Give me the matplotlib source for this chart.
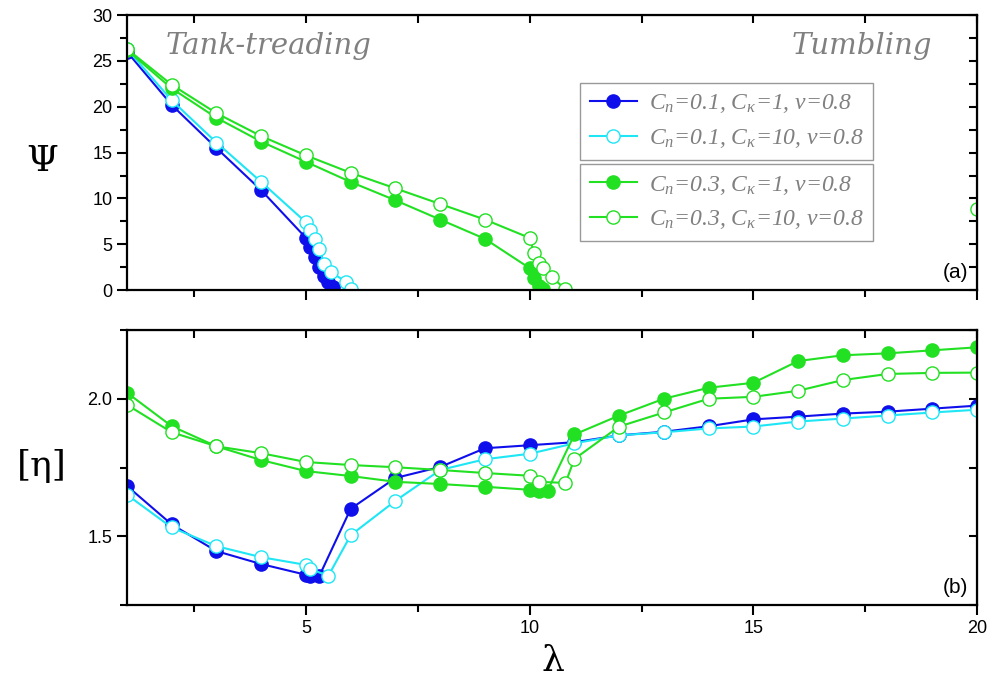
import matplotlib
matplotlib.use("Agg")
import matplotlib.pyplot as plt
import numpy as np
from matplotlib.ticker import MultipleLocator

# (a) Psi vs lambda
x_a_blue = [1, 2, 3, 4, 5, 5.1, 5.2, 5.3, 5.4, 5.5, 5.6]
psi_blue = [26.0, 20.2, 15.5, 10.9, 5.7, 4.7, 3.6, 2.5, 1.6, 0.9, 0.3]
x_a_cyan = [1, 2, 3, 4, 5, 5.1, 5.2, 5.3, 5.4, 5.55, 5.9, 6.0]
psi_cyan = [26.3, 20.7, 16.1, 11.8, 7.4, 6.6, 5.6, 4.5, 2.9, 2.0, 0.9, 0.1]
x_a_green = [1, 2, 3, 4, 5, 6, 7, 8, 9, 10, 10.1, 10.2, 10.3]
psi_green = [26.2, 22.0, 18.8, 16.2, 14.0, 11.8, 9.8, 7.7, 5.6, 2.4, 1.3, 0.5, 0.1]
x_a_lime = [1, 2, 3, 4, 5, 6, 7, 8, 9, 10, 10.1, 10.2, 10.3, 10.5, 10.8, np.nan, 20]
psi_lime = [26.3, 22.4, 19.3, 16.8, 14.7, 12.8, 11.1, 9.4, 7.7, 5.7, 4.0, 3.0, 2.4, 1.4, 0.1, np.nan, 8.9]

# (b) [eta] vs lambda
x_b_blue = [1, 2, 3, 4, 5, 5.1, 5.3, 6, 7, 8, 9, 10, 11, 12, 13, 14, 15, 16, 17, 18, 19, 20]
eta_blue = [1.683, 1.543, 1.446, 1.399, 1.360, 1.356, 1.356, 1.600, 1.712, 1.752, 1.820, 1.831,
            1.842, 1.867, 1.880, 1.900, 1.925, 1.935, 1.946, 1.953, 1.964, 1.975]
x_b_cyan = [1, 2, 3, 4, 5, 5.1, 5.5, 6, 7, 8, 9, 10, 11, 12, 13, 14, 15, 16, 17, 18, 19, 20]
eta_cyan = [1.651, 1.532, 1.464, 1.424, 1.396, 1.381, 1.356, 1.504, 1.629, 1.741, 1.780, 1.800,
            1.838, 1.867, 1.878, 1.892, 1.899, 1.917, 1.928, 1.939, 1.950, 1.960]
x_b_green = [1, 2, 3, 4, 5, 6, 7, 8, 9, 10, 10.2, 10.4, 11, 12, 13, 14, 15, 16, 17, 18, 19, 20]
eta_green = [2.022, 1.900, 1.827, 1.777, 1.737, 1.719, 1.698, 1.690, 1.680, 1.669, 1.666, 1.666,
             1.870, 1.939, 2.000, 2.040, 2.058, 2.137, 2.158, 2.165, 2.176, 2.187]
x_b_lime = [1, 2, 3, 4, 5, 6, 7, 8, 9, 10, 10.2, 10.8, 11, 12, 13, 14, 15, 16, 17, 18, 19, 20]
eta_lime = [1.978, 1.878, 1.827, 1.802, 1.770, 1.759, 1.751, 1.741, 1.730, 1.720, 1.698, 1.694,
            1.781, 1.899, 1.950, 2.000, 2.007, 2.029, 2.068, 2.090, 2.094, 2.095]

labels = [r"$C_n$=0.1, $C_\kappa$=1, $\nu$=0.8",
          r"$C_n$=0.1, $C_\kappa$=10, $\nu$=0.8",
          r"$C_n$=0.3, $C_\kappa$=1, $\nu$=0.8",
          r"$C_n$=0.3, $C_\kappa$=10, $\nu$=0.8"]

BLUE = "#0f0fec"
CYAN = "#1ee6f5"
GREEN = "#22e022"
GRAY = "#808080"

plt.rcParams["font.family"] = ["Liberation Sans", "DejaVu Sans"]
plt.rcParams["mathtext.fontset"] = "custom"
plt.rcParams["mathtext.it"] = "Liberation Serif:italic"
plt.rcParams["mathtext.rm"] = "Liberation Serif"

fig = plt.figure(figsize=(9.92, 6.86), dpi=100)
ax1 = fig.add_axes([0.128, 0.577, 0.857, 0.401])
ax2 = fig.add_axes([0.128, 0.118, 0.857, 0.401])


def series(ax, x, y, color, filled, label):
    ax.plot(x, y, "-", color=color, lw=1.5, marker="o", ms=9.5,
            mfc=color if filled else "white", mec=color, mew=1.0, label=label)


def style(ax, ystep):
    ax.set_xlim(1, 20)
    ax.xaxis.set_major_locator(MultipleLocator(5))
    ax.xaxis.set_minor_locator(MultipleLocator(2.5))
    ax.tick_params(which="both", direction="out", labelsize=13, width=1.5, top=False, right=False)
    ax.tick_params(which="major", length=7)
    ax.tick_params(which="minor", length=5)
    for s in ax.spines.values():
        s.set_linewidth(1.6)
    sx = ax.secondary_xaxis("top")
    sx.xaxis.set_major_locator(MultipleLocator(2.5))
    sx.tick_params(direction="in", length=6, width=1.5, labeltop=False)
    sy = ax.secondary_yaxis("right")
    sy.yaxis.set_major_locator(MultipleLocator(ystep))
    sy.tick_params(direction="in", length=6, width=1.5, labelright=False)


series(ax1, x_a_blue, psi_blue, BLUE, True, labels[0])
series(ax1, x_a_cyan, psi_cyan, CYAN, False, labels[1])
series(ax1, x_a_green, psi_green, GREEN, True, labels[2])
series(ax1, x_a_lime, psi_lime, GREEN, False, labels[3])
ax1.set_ylim(0, 30)
ax1.yaxis.set_major_locator(MultipleLocator(5))
ax1.yaxis.set_minor_locator(MultipleLocator(2.5))
style(ax1, 2.5)
ax1.tick_params(labelbottom=False)

series(ax2, x_b_blue, eta_blue, BLUE, True, labels[0])
series(ax2, x_b_cyan, eta_cyan, CYAN, False, labels[1])
series(ax2, x_b_green, eta_green, GREEN, True, labels[2])
series(ax2, x_b_lime, eta_lime, GREEN, False, labels[3])
ax2.set_ylim(1.25, 2.25)
ax2.yaxis.set_major_locator(MultipleLocator(0.5))
ax2.yaxis.set_minor_locator(MultipleLocator(0.25))
style(ax2, 0.25)

h, l = ax1.get_legend_handles_labels()
leg_kw = dict(fontsize=17, frameon=True, fancybox=False, edgecolor=GRAY, labelcolor=GRAY,
              handlelength=2.0, borderpad=0.4, labelspacing=0.5, handletextpad=0.5,
              borderaxespad=0)
leg1 = ax1.legend(h[:2], l[:2], loc="upper left", bbox_to_anchor=(0.533, 0.753), **leg_kw)
ax1.add_artist(leg1)
leg2 = ax1.legend(h[2:], l[2:], loc="upper left", bbox_to_anchor=(0.533, 0.458), **leg_kw)
for leg in (leg1, leg2):
    leg.get_frame().set_linewidth(1.0)
    for t in leg.get_texts():
        t.set_fontstyle("italic")
        t.set_family("Liberation Serif")

ax1.text(0.045, 0.86, "Tank-treading", transform=ax1.transAxes, fontsize=21,
         family="DejaVu Serif", style="italic", color=GRAY)
ax1.text(0.947, 0.86, "Tumbling", transform=ax1.transAxes, fontsize=21,
         family="DejaVu Serif", style="italic", color=GRAY, ha="right")
ax1.text(0.99, 0.03, "(a)", transform=ax1.transAxes, fontsize=15, ha="right", va="bottom")
ax2.text(0.99, 0.03, "(b)", transform=ax2.transAxes, fontsize=15, ha="right", va="bottom")

fig.text(0.042, 0.765, "Ψ", fontsize=26, family="DejaVu Serif", ha="center", va="center")
fig.text(0.042, 0.32, "[η]", fontsize=26, family="DejaVu Serif", ha="center", va="center")
fig.text(0.557, 0.037, "λ", fontsize=26, family="DejaVu Serif", ha="center", va="center")

fig.savefig("out.png", dpi=100)
